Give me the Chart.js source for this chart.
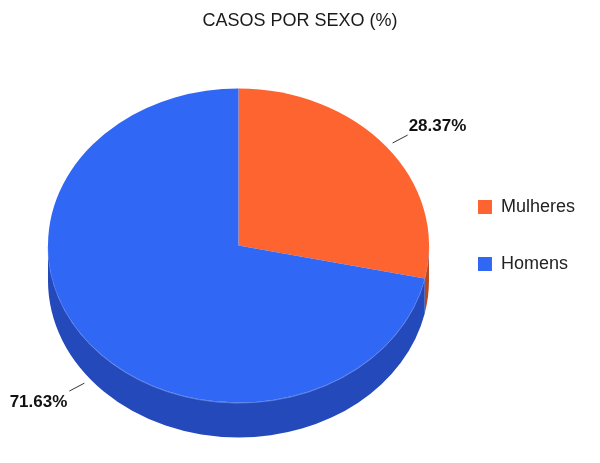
<!DOCTYPE html>
<html>
<head>
<meta charset="utf-8">
<script src="https://cdn.jsdelivr.net/npm/chart.js@4.4.0/dist/chart.umd.min.js"></script>
<style>
  html, body { margin: 0; padding: 0; background: #ffffff; }
  #wrap { width: 600px; height: 463px; position: relative; }
</style>
</head>
<body>
<div id="wrap"><canvas id="c"></canvas></div>
<script>
const chartTitle = 'CASOS POR SEXO (%)';
const categories = ['Mulheres', 'Homens'];
const values = [28.37, 71.63];
const topColors = ['#fd6430', '#3067f5'];
const sideColors = ['#b9481f', '#2449ba'];

const TILT = 0.824;   // vertical squash of the pie top
const DEPTH = 35;     // thickness of the 3D side
const FONT = 'Arial, "Liberation Sans", sans-serif';

function geom(chart) {
  const arcs = chart.getDatasetMeta(0).data;
  const a0 = arcs[0];
  const r = a0.outerRadius;
  const ry = r * TILT;
  return { arcs, cx: a0.x, cy: a0.y, r, ry, ecy: chart.chartArea.top + ry };
}

const pie3d = {
  id: 'pie3d',
  afterLayout(chart) {
    // centre the title over the whole canvas
    if (chart.titleBlock) {
      chart.titleBlock.left = 0;
      chart.titleBlock.right = chart.width;
      chart.titleBlock.width = chart.width;
    }
  },
  beforeDatasetsDraw(chart) {
    const ctx = chart.ctx;
    const g = geom(chart);
    g.arcs.forEach((arc, i) => {
      const s = arc.startAngle, e = arc.endAngle;
      for (let k = -1; k <= 1; k++) {
        const lo = Math.max(s, 2 * Math.PI * k);
        const hi = Math.min(e, 2 * Math.PI * k + Math.PI);
        if (hi <= lo) continue;
        ctx.save();
        ctx.beginPath();
        ctx.ellipse(g.cx, g.ecy, g.r, g.ry, 0, lo, hi, false);
        ctx.ellipse(g.cx, g.ecy + DEPTH, g.r, g.ry, 0, hi, lo, true);
        ctx.closePath();
        ctx.fillStyle = sideColors[i];
        ctx.fill();
        ctx.beginPath();
        ctx.ellipse(g.cx, g.ecy + 0.5, g.r, g.ry, 0, lo, hi, false);
        ctx.strokeStyle = 'rgba(140,170,255,0.55)';
        ctx.lineWidth = 1;
        ctx.stroke();
        ctx.restore();
      }
    });
    ctx.save();
    ctx.translate(g.cx, g.ecy);
    ctx.scale(1, TILT);
    ctx.translate(-g.cx, -g.cy);
  },
  afterDatasetsDraw(chart) {
    const ctx = chart.ctx;
    ctx.restore();
    const g = geom(chart);
    const ds = chart.data.datasets[0];
    g.arcs.forEach((arc, i) => {
      const t = (arc.startAngle + arc.endAngle) / 2;
      const c = Math.cos(t), s = Math.sin(t);
      const sx = g.cx + g.r * 1.04 * c;
      const sy = g.ecy + g.ry * 1.04 * s + (s > 0 ? DEPTH : 0);
      const len = 17;
      const dx = c, dy = s * 0.65;
      const n = Math.hypot(dx, dy);
      const ex = sx + len * dx / n, ey = sy + len * dy / n;
      ctx.save();
      ctx.beginPath();
      ctx.moveTo(sx, sy);
      ctx.lineTo(ex, ey);
      ctx.strokeStyle = '#333333';
      ctx.lineWidth = 1;
      ctx.stroke();
      ctx.font = 'bold 17px ' + FONT;
      ctx.fillStyle = '#111111';
      ctx.textBaseline = 'middle';
      ctx.textAlign = c >= 0 ? 'left' : 'right';
      const txt = ds.data[i].toFixed(2) + '%';
      ctx.fillText(txt, ex + (c >= 0 ? 1 : -2), ey + (s >= 0 ? 11 : -9));
      ctx.restore();
    });
  }
};

new Chart(document.getElementById('c'), {
  type: 'pie',
  data: {
    labels: categories,
    datasets: [{
      data: values,
      backgroundColor: topColors,
      borderWidth: 0,
      radius: 190.5,
      clip: false
    }]
  },
  options: {
    responsive: true,
    maintainAspectRatio: false,
    animation: false,
    events: [],
    layout: { padding: { top: 8, left: 38, right: 15, bottom: 0 } },
    plugins: {
      title: {
        display: true,
        text: chartTitle,
        color: '#1a1a1a',
        font: { family: FONT, size: 18, weight: 'normal' },
        padding: { top: 2, bottom: 57 }
      },
      legend: {
        position: 'right',
        align: 'center',
        labels: {
          boxWidth: 14,
          boxHeight: 14,
          padding: 39,
          color: '#222222',
          font: { family: FONT, size: 18 }
        }
      },
      tooltip: { enabled: false }
    }
  },
  plugins: [pie3d]
});
</script>
</body>
</html>
